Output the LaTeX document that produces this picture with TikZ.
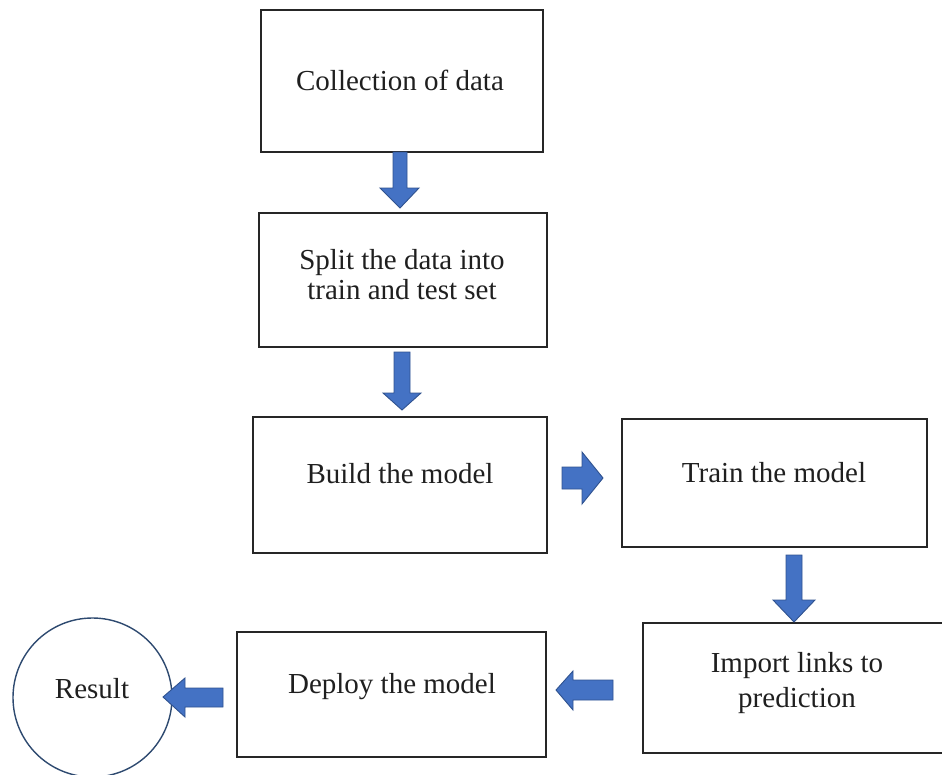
\documentclass[tikz,border=0pt]{standalone}
\usepackage{fontspec}
\setmainfont{Liberation Serif}
\definecolor{arrowfill}{HTML}{4472C4}
\definecolor{arrowline}{HTML}{2F528F}
\definecolor{circline}{HTML}{2E4A70}
\begin{document}
\begin{tikzpicture}[x=1pt,y=-1pt,
  box/.style={draw=black!85, line width=1.3pt, rectangle, inner sep=0pt, outer sep=0pt},
  txt/.style={font=\fontsize{29}{30}\selectfont, text=black!88, inner sep=0pt, align=center, anchor=base},
  blockarrow/.style={fill=arrowfill, draw=arrowline, line width=0.9pt, line join=miter}]
\useasboundingbox (0,0) rectangle (942,774);
% boxes
\node[box, minimum width=282pt, minimum height=142pt] (b1) at (402,81) {};
\node[box, minimum width=288pt, minimum height=134pt] (b2) at (403,280) {};
\node[box, minimum width=294pt, minimum height=136pt] (b3) at (400,485) {};
\node[box, minimum width=305pt, minimum height=128pt] (b4) at (774.5,483) {};
\node[box, minimum width=301pt, minimum height=130pt] (b5) at (793.5,688) {};
\node[box, minimum width=309pt, minimum height=125pt] (b6) at (391.5,694.5) {};
\node[circle, draw=circline, line width=1.4pt, minimum size=159pt, inner sep=0pt] (res) at (92.5,697.5) {};
% texts
\node[txt] (t1) at (400,90) {Collection of data};
\node[txt] (t2) at (402,299) {Split the data into\\train and test set};
\node[txt] (t3) at (400,483) {Build the model};
\node[txt] (t4) at (774,482) {Train the model};
\node[txt, font=\fontsize{29}{35}\selectfont] (t5) at (797,707) {Import links to\\prediction};
\node[txt] (t6) at (392,693) {Deploy the model};
\node[txt] (t7) at (92,698) {Result};
% block arrows
\draw[blockarrow] (393,152) -- (407,152) -- (407,188) -- (419,188) -- (400,208) -- (380,188) -- (393,188) -- cycle;
\draw[blockarrow] (394,352) -- (410,352) -- (410,393) -- (421,393) -- (402,410) -- (383,393) -- (394,393) -- cycle;
\draw[blockarrow] (562,467) -- (582,467) -- (582,452) -- (603,478) -- (582,504) -- (582,489) -- (562,489) -- cycle;
\draw[blockarrow] (786,555) -- (802,555) -- (802,600) -- (815,600) -- (794,622) -- (773,600) -- (786,600) -- cycle;
\draw[blockarrow] (613,680) -- (613,700) -- (573,700) -- (573,710) -- (556,690) -- (573,671) -- (573,680) -- cycle;
\draw[blockarrow] (223,688) -- (223,707) -- (185,707) -- (185,717) -- (163,697) -- (185,678) -- (185,688) -- cycle;
\end{tikzpicture}
\end{document}
